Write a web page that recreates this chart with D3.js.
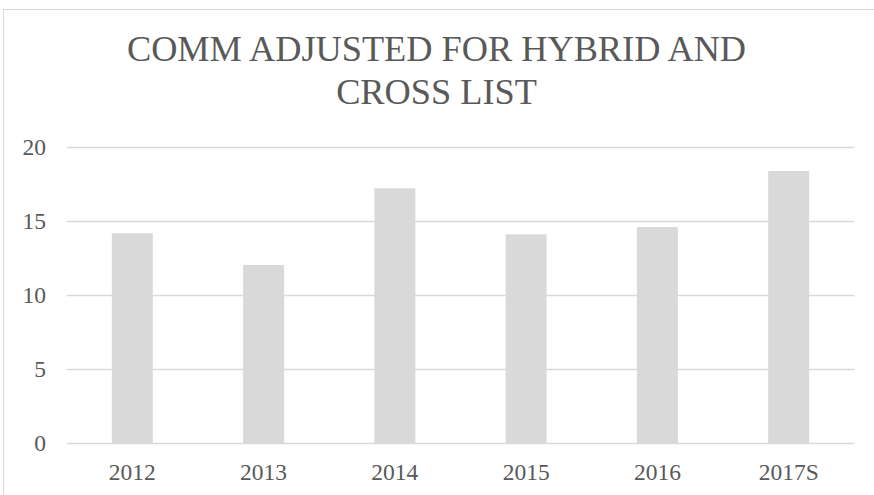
<!DOCTYPE html>
<html>
<head>
<meta charset="utf-8">
<script src="https://cdn.jsdelivr.net/npm/d3@7"></script>
<style>
  html, body { margin: 0; padding: 0; background: #fff; }
</style>
</head>
<body>
<div id="chart"></div>
<script>
// data
const categories = ["2012", "2013", "2014", "2015", "2016", "2017S"];
const values = [14.2, 12.05, 17.23, 14.12, 14.61, 18.4];
const yTicks = [0, 5, 10, 15, 20];
const titleLines = ["COMM ADJUSTED FOR HYBRID AND", "CROSS LIST"];

const width = 874,
    height = 495;
const margin = {top: 147.3, right: 874 - 854.3, bottom: 495 - 443.3, left: 66.7};

const svg = d3.select("#chart").append("svg")
    .attr("width", width)
    .attr("height", height)
    .style("font-family", "'Liberation Serif', 'Times New Roman', serif");

// chart area frame (only left and top edges are visible in the crop)
svg.append("rect")
    .attr("x", 3.5)
    .attr("y", 9.5)
    .attr("width", 1000)
    .attr("height", 1000)
    .attr("fill", "none")
    .attr("stroke", "#d9d9d9")
    .attr("stroke-width", 1);

const x = d3.scaleBand()
    .domain(categories)
    .range([margin.left, width - margin.right])
    .paddingInner(0.688)
    .paddingOuter(0.344);

const y = d3.scaleLinear()
    .domain([0, 20])
    .range([height - margin.bottom, margin.top]);

// gridlines
svg.append("g")
    .selectAll("line")
    .data(yTicks)
    .join("line")
      .attr("x1", margin.left)
      .attr("x2", width - margin.right)
      .attr("y1", d => Math.round(y(d)) + 0.5)
      .attr("y2", d => Math.round(y(d)) + 0.5)
      .attr("stroke", "#d9d9d9")
      .attr("stroke-width", 1.3);

// bars
svg.append("g")
    .attr("fill", "#d9d9d9")
    .selectAll("rect")
    .data(values)
    .join("rect")
      .attr("x", (d, i) => x(categories[i]))
      .attr("y", d => y(d))
      .attr("width", x.bandwidth())
      .attr("height", d => y(0) - y(d));

// y tick labels
svg.append("g")
    .attr("fill", "#595959")
    .attr("font-size", 23.5)
    .attr("text-anchor", "end")
    .selectAll("text")
    .data(yTicks)
    .join("text")
      .attr("x", 46)
      .attr("y", d => y(d))
      .attr("dy", "0.33em")
      .text(d => d);

// x tick labels
svg.append("g")
    .attr("fill", "#595959")
    .attr("font-size", 23.5)
    .attr("text-anchor", "middle")
    .selectAll("text")
    .data(categories)
    .join("text")
      .attr("x", d => x(d) + x.bandwidth() / 2)
      .attr("y", 480)
      .text(d => d);

// title
svg.append("g")
    .attr("fill", "#595959")
    .attr("font-size", 36.3)
    .attr("text-anchor", "middle")
    .selectAll("text")
    .data(titleLines)
    .join("text")
      .attr("x", 436.5)
      .attr("y", (d, i) => 60.7 + i * 43.5)
      .text(d => d);
</script>
</body>
</html>
